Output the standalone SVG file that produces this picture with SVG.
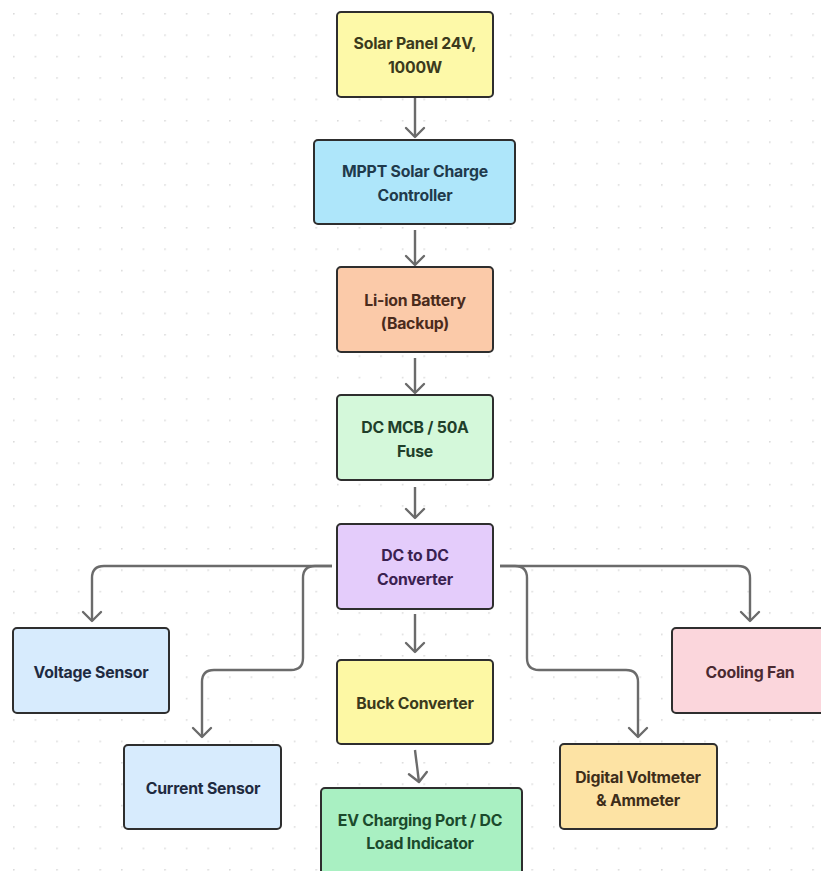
<svg xmlns="http://www.w3.org/2000/svg" width="821" height="871" viewBox="0 0 821 871">
  <defs>
    <pattern id="dots" x="13" y="13" width="21.6" height="21.4" patternUnits="userSpaceOnUse">
      <circle cx="0.8" cy="0.8" r="0.9" fill="#d9d9d9"/>
    </pattern>
    <marker id="arrow" viewBox="-12 -12 14 24" refX="0" refY="0" markerWidth="14" markerHeight="24" markerUnits="userSpaceOnUse" orient="auto">
      <path d="M-9,-9 L0,0 L-9,9" fill="none" stroke="#6b6b6b" stroke-width="2.4" stroke-linecap="round" stroke-linejoin="round"/>
    </marker>
    <style>
      .box { stroke: #2e2e2e; stroke-width: 2; }
      .lbl { font-family: Inter, "Liberation Sans", Arial, sans-serif; font-weight: 700; font-size: 15.8px; letter-spacing: -0.2px; text-anchor: middle; }
      .conn { fill: none; stroke: #6b6b6b; stroke-width: 2.4; marker-end: url(#arrow); }
    </style>
  </defs>
  <rect x="0" y="0" width="821" height="871" fill="#ffffff"/>
  <rect x="0" y="0" width="821" height="871" fill="url(#dots)"/>

  <g id="connectors">
    <path class="conn" d="M415,98 L415,137"/>
    <path class="conn" d="M415,230 L415,265"/>
    <path class="conn" d="M415,358 L415,393"/>
    <path class="conn" d="M415,487 L415,518"/>
    <path class="conn" d="M415,614 L415,652"/>
    <path class="conn" d="M415,750 L419,782"/>
    <path class="conn" d="M332,566 L104,566 Q92,566 92,578 L92,621"/>
    <path class="conn" d="M332,566 L315,566 Q303,566 303,578 L303,658 Q303,670 291,670 L214,670 Q202,670 202,682 L202,737"/>
    <path class="conn" d="M500,566 L738,566 Q750,566 750,578 L750,621"/>
    <path class="conn" d="M500,566 L515,566 Q527,566 527,578 L527,658 Q527,670 539,670 L626,670 Q638,670 638,682 L638,737"/>
  </g>

  <g id="solar-panel">
    <rect class="box" x="337" y="12" width="156" height="85" rx="4" fill="#fdf9a8"/>
    <text class="lbl" x="415" y="49" fill="#3b3a1c">Solar Panel 24V,</text>
    <text class="lbl" x="415" y="73" fill="#3b3a1c">1000W</text>
  </g>

  <g id="mppt">
    <rect class="box" x="314" y="140" width="201" height="84" rx="4" fill="#aee6fa"/>
    <text class="lbl" x="415" y="177" fill="#1f3a4c">MPPT Solar Charge</text>
    <text class="lbl" x="415" y="201" fill="#1f3a4c">Controller</text>
  </g>

  <g id="battery">
    <rect class="box" x="337" y="267" width="156" height="85" rx="4" fill="#fbcaa9"/>
    <text class="lbl" x="415" y="306" fill="#4a2b1c">Li-ion Battery</text>
    <text class="lbl" x="415" y="329" fill="#4a2b1c">(Backup)</text>
  </g>

  <g id="dc-mcb">
    <rect class="box" x="337" y="395" width="156" height="85" rx="4" fill="#d4f8da"/>
    <text class="lbl" x="415" y="433" fill="#1f3f2a">DC MCB / 50A</text>
    <text class="lbl" x="415" y="457" fill="#1f3f2a">Fuse</text>
  </g>

  <g id="dc-dc">
    <rect class="box" x="337" y="524" width="156" height="85" rx="4" fill="#e4ccfb"/>
    <text class="lbl" x="415" y="561" fill="#3a2150">DC to DC</text>
    <text class="lbl" x="415" y="585" fill="#3a2150">Converter</text>
  </g>

  <g id="voltage-sensor">
    <rect class="box" x="13" y="628" width="156" height="85" rx="4" fill="#d7ebfd"/>
    <text class="lbl" x="91" y="678" fill="#1e2a40">Voltage Sensor</text>
  </g>

  <g id="current-sensor">
    <rect class="box" x="124" y="745" width="157" height="84" rx="4" fill="#d7ebfd"/>
    <text class="lbl" x="203" y="794" fill="#1e2a40">Current Sensor</text>
  </g>

  <g id="buck">
    <rect class="box" x="337" y="660" width="156" height="84" rx="4" fill="#fdf8a4"/>
    <text class="lbl" x="415" y="709" fill="#3b3a1c">Buck Converter</text>
  </g>

  <g id="ev-port">
    <rect class="box" x="321" y="788" width="201" height="95" rx="4" fill="#a9f0c2"/>
    <text class="lbl" x="420" y="826" fill="#1b4a2c">EV Charging Port / DC</text>
    <text class="lbl" x="420" y="849" fill="#1b4a2c">Load Indicator</text>
  </g>

  <g id="cooling-fan">
    <rect class="box" x="672" y="628" width="156" height="85" rx="4" fill="#fbd6dc"/>
    <text class="lbl" x="750" y="678" fill="#4a2a31">Cooling Fan</text>
  </g>

  <g id="digital-meter">
    <rect class="box" x="560" y="744" width="157" height="85" rx="4" fill="#fde3a4"/>
    <text class="lbl" x="638" y="783" fill="#3e2e1a">Digital Voltmeter</text>
    <text class="lbl" x="638" y="806" fill="#3e2e1a">&amp; Ammeter</text>
  </g>
</svg>
